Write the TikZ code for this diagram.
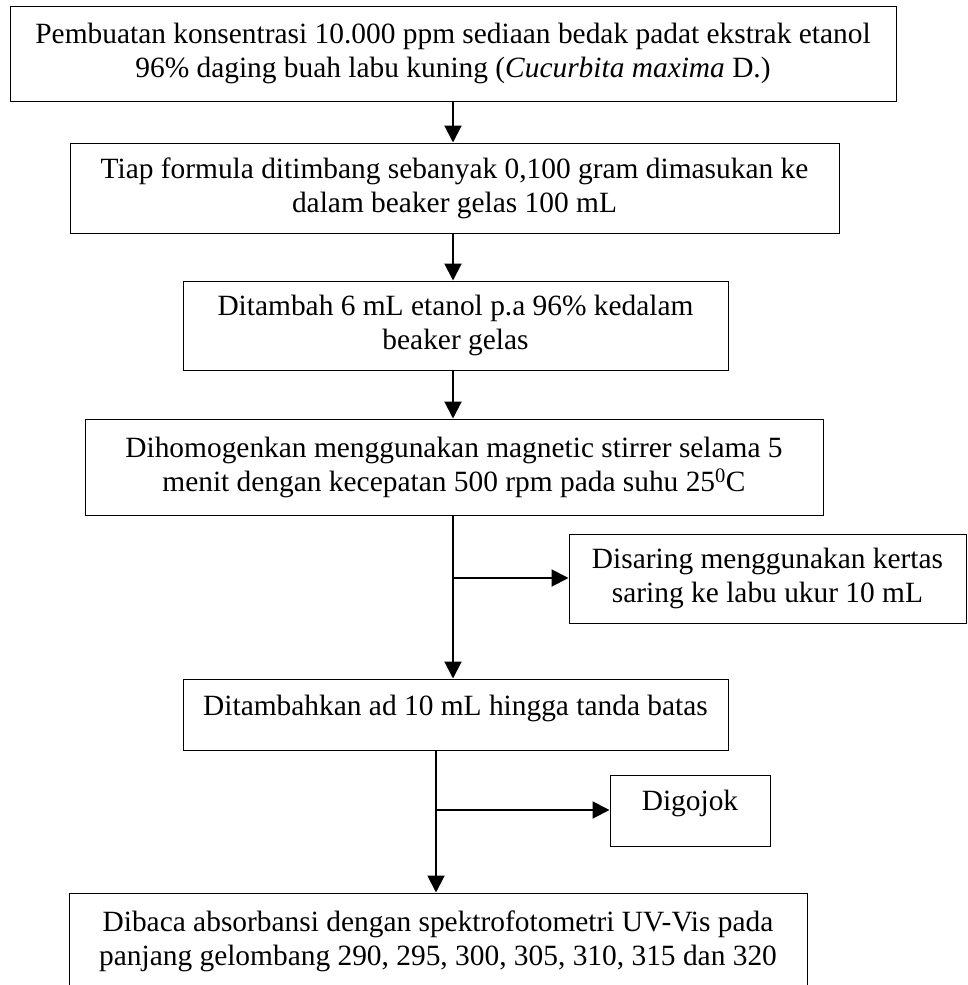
\documentclass[tikz,border=0pt]{standalone}
\usepackage{fontspec}
\setmainfont{Liberation Serif}
\usetikzlibrary{arrows.meta}
\begin{document}
\begin{tikzpicture}[x=1pt,y=-1pt,
  box/.style={draw,line width=1pt,inner sep=0pt,align=center,
    font=\fontsize{29.4}{34}\selectfont},
  flow/.style={line width=2pt,-{Triangle[length=17pt,width=17pt]}}]
\useasboundingbox (0,0) rectangle (967,985);
\node[box,minimum width=886pt,minimum height=95pt] (b1) at (453,53.5)
  {Pembuatan konsentrasi 10.000 ppm sediaan bedak padat ekstrak etanol\\96\% daging buah labu kuning (\textit{Cucurbita maxima} D.)};
\node[box,minimum width=769pt,minimum height=90pt] (b2) at (454.5,188)
  {Tiap formula ditimbang sebanyak 0,100 gram dimasukan ke\\dalam beaker gelas 100 mL};
\node[box,minimum width=545pt,minimum height=89pt] (b3) at (455.5,325.5)
  {Ditambah 6 mL etanol p.a 96\% kedalam\\beaker gelas};
\node[box,minimum width=738pt,minimum height=96pt] (b4) at (454,467)
  {Dihomogenkan menggunakan magnetic stirrer selama 5\\menit dengan kecepatan 500 rpm pada suhu 25\textsuperscript{0}C};
\node[box,minimum width=397pt,minimum height=89pt] (s1) at (767.5,578.5)
  {Disaring menggunakan kertas\\saring ke labu ukur 10 mL};
\node[box,minimum width=545pt,text height=36pt,text depth=35pt] (b5) at (455.5,714.5)
  {Ditambahkan ad 10 mL hingga tanda batas};
\node[box,minimum width=160pt,text height=35pt,text depth=36pt] (s2) at (690,810.5)
  {Digojok};
\node[box,minimum width=738pt,minimum height=96pt] (b6) at (438,941)
  {Dibaca absorbansi dengan spektrofotometri UV-Vis pada\\panjang gelombang 290, 295, 300, 305, 310, 315 dan 320};
\coordinate (c1) at (453,101);
\coordinate (c2) at (453,233);
\coordinate (c3) at (453,370);
\coordinate (c4) at (453,515);
\coordinate (j1) at (453,578);
\coordinate (c5) at (436,750);
\coordinate (j2) at (436,810);
\draw[flow] (c1) -- (c1 |- b2.north);
\draw[flow] (c2) -- (c2 |- b3.north);
\draw[flow] (c3) -- (c3 |- b4.north);
\draw[flow] (c4) -- (c4 |- b5.north);
\draw[flow] (j1) -- (j1 -| s1.west);
\draw[flow] (c5) -- (c5 |- b6.north);
\draw[flow] (j2) -- (j2 -| s2.west);
\end{tikzpicture}
\end{document}
